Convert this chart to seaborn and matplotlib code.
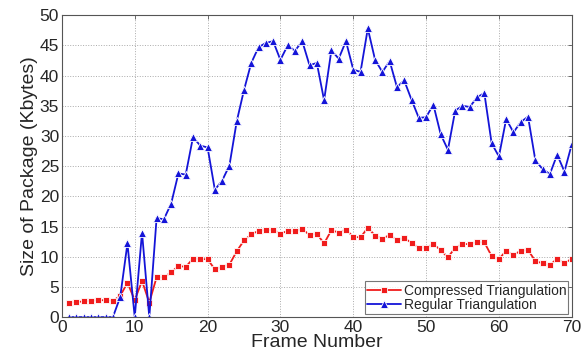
import pandas as pd
import matplotlib
matplotlib.use('Agg')
import matplotlib.pyplot as plt
import seaborn as sns

# Frame numbers and package sizes (Kbytes)
frames = list(range(1, 71))

compressed = [2.4, 2.5, 2.6, 2.7, 2.8, 2.8, 2.7, 3.5, 5.7, 2.8,
              6.0, 2.4, 6.6, 6.6, 7.4, 8.5, 8.3, 9.7, 9.6, 9.6,
              7.9, 8.3, 8.7, 10.9, 12.7, 13.7, 14.3, 14.4, 14.5, 13.8,
              14.3, 14.2, 14.6, 13.6, 13.8, 12.2, 14.4, 14.0, 14.5, 13.3,
              13.2, 14.8, 13.5, 13.0, 13.6, 12.8, 13.1, 12.3, 11.5, 11.5,
              12.1, 11.1, 9.9, 11.5, 12.1, 12.1, 12.4, 12.4, 10.1, 9.6,
              11.0, 10.3, 11.0, 11.1, 9.3, 8.9, 8.6, 9.7, 8.9, 9.7]

regular = [0, 0, 0, 0, 0, 0, 0, 3.3, 12.2, 0,
           14.0, 0, 16.4, 16.2, 18.8, 23.8, 23.6, 29.8, 28.4, 28.1,
           21.1, 22.6, 25.1, 32.4, 37.6, 42.1, 44.7, 45.4, 45.7, 42.6,
           45.0, 44.1, 45.7, 41.7, 42.1, 35.9, 44.2, 42.8, 45.7, 41.0,
           40.6, 47.8, 42.6, 40.6, 42.4, 38.1, 39.2, 36.0, 33.0, 33.1,
           35.2, 30.3, 27.7, 34.2, 35.0, 34.8, 36.4, 37.1, 28.8, 26.6,
           32.8, 30.6, 32.3, 33.2, 26.0, 24.5, 23.7, 26.9, 24.1, 28.6]

df = pd.DataFrame({'Frame': frames,
                   'Compressed Triangulation': compressed,
                   'Regular Triangulation': regular})

sns.set_style('white')
plt.rcParams['font.family'] = ['Liberation Sans', 'DejaVu Sans']

fig = plt.figure(figsize=(5.84, 3.62), dpi=100)
ax = fig.add_axes([0.106, 0.124, 0.873, 0.834])

# One call per series so the markers can differ in size
sns.lineplot(x='Frame', y='Compressed Triangulation', data=df, color='#f01c1c',
             marker='s', markersize=4.5, markeredgewidth=0.6, linewidth=1.3,
             label='Compressed Triangulation', ax=ax)
sns.lineplot(x='Frame', y='Regular Triangulation', data=df, color='#1414d8',
             marker='^', markersize=6, markeredgewidth=0.6, linewidth=1.3,
             label='Regular Triangulation', ax=ax)

ax.set_xlim(0, 70)
ax.set_ylim(0, 50)
ax.set_xticks(range(0, 71, 10))
ax.set_yticks(range(0, 51, 5))
ax.tick_params(direction='in', top=True, right=True, labelsize=12.5,
               length=3, width=0.6, color='#555555', pad=2)
ax.grid(True, ls=':', color='#aaaaaa', lw=0.7)
for s in ax.spines.values():
    s.set_color('#555555')
    s.set_linewidth(0.8)

ax.set_xlabel('Frame Number', fontsize=14, labelpad=-1)
ax.set_ylabel('Size of Package (Kbytes)', fontsize=14, labelpad=1)

leg = ax.legend(loc='lower right', fontsize=10, frameon=True, fancybox=False,
                borderpad=0.15, labelspacing=0.0, handlelength=2.4,
                handletextpad=0.2, borderaxespad=0.25)
leg.get_frame().set_edgecolor('#555555')
leg.get_frame().set_linewidth(0.8)

plt.savefig('out.png', dpi=100)
